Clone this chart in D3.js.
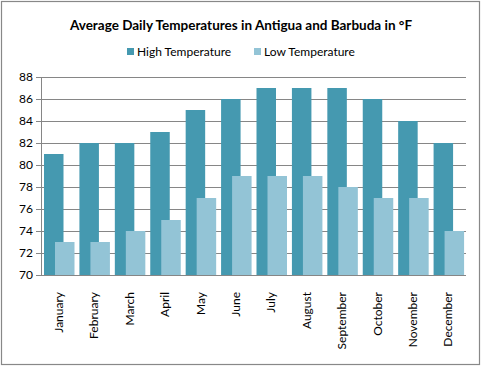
<!DOCTYPE html>
<html>
<head>
<meta charset="utf-8">
<script src="https://cdn.jsdelivr.net/npm/d3@7"></script>
<style>
  body { margin: 0; background: #fff; }
  text { font-family: Lato, "Open Sans", sans-serif; fill: #000; }
</style>
</head>
<body>
<div id="svgcontainer"></div>
<script>
var months = ["January","February","March","April","May","June","July","August","September","October","November","December"];
var highTemps = [81, 82, 82, 83, 85, 86, 87, 87, 87, 86, 84, 82];
var lowTemps  = [73, 73, 74, 75, 77, 79, 79, 79, 78, 77, 77, 74];
var yTicks = [70, 72, 74, 76, 78, 80, 82, 84, 86, 88];
var seriesNames = ["High Temperature", "Low Temperature"];
var colors = ["#4599b0", "#93c4d6"];

var width = 482, height = 366;
var pLeft = 41, pRight = 466, pTop = 77, pBottom = 275;

var svg = d3.select("#svgcontainer")
    .append("svg")
    .attr("width", width)
    .attr("height", height);

// outer border
svg.append("rect")
  .attr("x", 1.5).attr("y", 1.5)
  .attr("width", 478).attr("height", 363)
  .style("fill", "#fff")
  .style("stroke", "#888")
  .style("stroke-width", 1.2);

var x = d3.scaleBand().domain(months).range([pLeft, pRight]);
var y = d3.scaleLinear().domain([70, 88]).range([pBottom, pTop]);

// gridlines
svg.append("g").selectAll("line")
  .data(yTicks)
  .enter().append("line")
  .attr("x1", pLeft - 5)
  .attr("x2", pRight)
  .attr("y1", function(d){ return Math.round(y(d)) + 0.5; })
  .attr("y2", function(d){ return Math.round(y(d)) + 0.5; })
  .style("stroke", "#868686")
  .style("stroke-width", 1);

// y tick labels
svg.append("g").selectAll("text")
  .data(yTicks)
  .enter().append("text")
  .attr("x", 33)
  .attr("y", function(d){ return y(d); })
  .attr("dy", "0.35em")
  .attr("text-anchor", "end")
  .style("font-size", "12px")
  .text(function(d){ return d; });

// bars
var bw = 19.5;
var offsets = [3, 14];
[highTemps, lowTemps].forEach(function(vals, i){
  svg.append("g").selectAll("rect")
    .data(vals)
    .enter().append("rect")
    .attr("x", function(d, j){ return x(months[j]) + offsets[i]; })
    .attr("y", function(d){ return y(d); })
    .attr("width", bw)
    .attr("height", function(d){ return y(70) - y(d); })
    .style("fill", colors[i]);
});

// axis lines
svg.append("line")
  .attr("x1", pLeft + 0.5).attr("x2", pLeft + 0.5)
  .attr("y1", pTop).attr("y2", pBottom)
  .style("stroke", "#868686");
svg.append("line")
  .attr("x1", pLeft).attr("x2", pRight)
  .attr("y1", pBottom + 0.5).attr("y2", pBottom + 0.5)
  .style("stroke", "#868686");

// x labels
svg.append("g").selectAll("text")
  .data(months)
  .enter().append("text")
  .attr("transform", function(d){
    return "translate(" + (x(d) + x.bandwidth() / 2) + ",292) rotate(-90)";
  })
  .attr("dy", "0.35em")
  .attr("text-anchor", "end")
  .style("font-size", "12px")
  .text(function(d){ return d; });

// title
svg.append("text")
  .attr("x", 241)
  .attr("y", 30)
  .attr("text-anchor", "middle")
  .style("font-size", "13.5px")
  .style("font-weight", "bold")
  .text("Average Daily Temperatures in Antigua and Barbuda in °F");

// legend
var legX = [127, 254];
seriesNames.forEach(function(name, i){
  svg.append("rect")
    .attr("x", legX[i]).attr("y", 48)
    .attr("width", 7).attr("height", 7)
    .style("fill", colors[i]);
  svg.append("text")
    .attr("x", legX[i] + 10)
    .attr("y", 56)
    .style("font-size", "12px")
    .text(name);
});
</script>
</body>
</html>
